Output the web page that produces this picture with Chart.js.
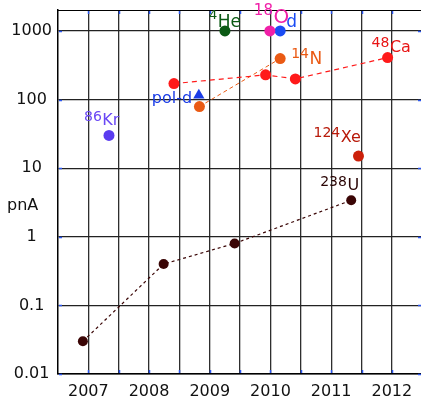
<!DOCTYPE html>
<html>
<head>
<meta charset="utf-8">
<script src="https://cdn.jsdelivr.net/npm/chart.js@4/dist/chart.umd.min.js"></script>
<style>
html,body{margin:0;padding:0;background:#fff;}
#wrap{width:421px;height:403px;position:relative;}
</style>
</head>
<body>
<div id="wrap"><canvas id="c" width="421" height="403"></canvas></div>
<script>
// ---- data ----
const yTickValues = [0.01, 0.1, 1, 10, 100, 1000];
const yTickLabels = ['0.01', '0.1', '1', '10', '100', '1000'];
const xTickYears = [2007, 2008, 2009, 2010, 2011, 2012];
const yAxisLabel = 'pnA';

const uYears = [2006.91, 2008.24, 2009.41, 2011.33];
const uValues = [0.03, 0.4, 0.8, 3.4];
const caYears = [2008.41, 2009.92, 2010.41, 2011.93];
const caValues = [171, 229, 200, 409];
const nYears = [2008.83, 2010.16];
const nValues = [79, 396];
const poldYears = [2008.82];
const poldValues = [116];
const krYears = [2007.34];
const krValues = [30];
const heYears = [2009.25];
const heValues = [1000];
const oYears = [2009.99];
const oValues = [1000];
const dYears = [2010.16];
const dValues = [1000];
const xeYears = [2011.45];
const xeValues = [15];

const seriesNames = ['238U', '48Ca', '14N', 'pol-d', '86Kr', '4He', '18O', 'd', '124Xe'];
const labelSup = ['238', '48', '14', '', '86', '4', '18', '', '124'];
const labelMain = ['U', 'Ca', 'N', 'pol-d', 'Kr', 'He', 'O', 'd', 'Xe'];

// ---- styles ----
const colors = {
  u: '#3a0505', ca: '#ff1a1a', n: '#ea5a14', pold: '#1a3ce6', kr: '#5a3cf0',
  he: '#0b5a14', o: '#f020a8', d: '#1a4cf5', xe: '#cc200a'
};
const labelColors = ['#2a0505', '#e81414', '#ea5a14', '#1a3ce6', '#6a48f5', '#0b5a14', '#f020a8', '#1a4cf5', '#b81a0a'];
// label placement: [datasetIndex, pointIndex, dx, dy (main baseline), supRaise, mainSize, supSize]
const labelPlace = [
  [0, 3, -31, -10, 4, 16, 14],
  [1, 3, -16, -6, 5, 16, 14],
  [2, 1, 11, 5, 6, 17, 14],
  [3, 0, -47, 8, 0, 16, 14],
  [4, 0, -25, -10, 4, 16, 14],
  [5, 0, -16, -4, 8, 17, 13],
  [6, 0, -16, -8, 8, 20, 15],
  [7, 0, 6, -4, 0, 17, 13],
  [8, 0, -45, -14, 5, 16, 14]
];

function pts(xs, ys) { return xs.map((x, i) => ({x: x, y: ys[i]})); }

const FONT = '"DejaVu Sans", Verdana, sans-serif';

const datasets = [
  {data: pts(uYears, uValues), borderColor: colors.u, backgroundColor: colors.u, borderDash: [3, 3], borderWidth: 1.2, showLine: true, pointRadius: 5, pointHoverRadius: 5},
  {data: pts(caYears, caValues), borderColor: colors.ca, backgroundColor: colors.ca, borderDash: [5, 4], borderWidth: 1.2, showLine: true, pointRadius: 5.5},
  {data: pts(nYears, nValues), borderColor: colors.n, backgroundColor: colors.n, borderDash: [4, 3], borderWidth: 1, showLine: true, pointRadius: 5.5},
  {data: pts(poldYears, poldValues), borderColor: colors.pold, backgroundColor: colors.pold, pointStyle: 'triangle', pointRadius: 6.5, showLine: false},
  {data: pts(krYears, krValues), borderColor: colors.kr, backgroundColor: colors.kr, pointRadius: 5.5, showLine: false},
  {data: pts(heYears, heValues), borderColor: colors.he, backgroundColor: colors.he, pointRadius: 5.5, showLine: false},
  {data: pts(oYears, oValues), borderColor: colors.o, backgroundColor: colors.o, pointRadius: 5.5, showLine: false},
  {data: pts(dYears, dValues), borderColor: colors.d, backgroundColor: colors.d, pointRadius: 5.5, showLine: false},
  {data: pts(xeYears, xeValues), borderColor: colors.xe, backgroundColor: colors.xe, pointRadius: 5.5, showLine: false}
];
datasets.forEach((d, i) => { d.label = seriesNames[i]; d.pointBorderWidth = 0; });

const frame = {
  id: 'frame',
  beforeDatasetsDraw(chart) {
    const {ctx, chartArea: a, scales} = chart;
    ctx.save();
    ctx.strokeStyle = '#000';
    ctx.lineWidth = 1;
    ctx.beginPath();
    ctx.moveTo(a.left, a.top + 0.5); ctx.lineTo(a.right, a.top + 0.5);
    ctx.stroke();
    // small blue mirror ticks
    ctx.strokeStyle = '#2a55ee';
    ctx.lineWidth = 1.5;
    ctx.beginPath();
    scales.x.ticks.forEach(t => {
      const x = Math.round(scales.x.getPixelForValue(t.value)) + 0.5;
      ctx.moveTo(x, a.top + 1); ctx.lineTo(x, a.top + 4);
      ctx.moveTo(x, a.bottom - 1); ctx.lineTo(x, a.bottom - 4);
    });
    scales.y.ticks.forEach(t => {
      const y = Math.round(scales.y.getPixelForValue(t.value)) + 0.5;
      ctx.moveTo(a.left + 1, y); ctx.lineTo(a.left + 4, y);
      ctx.moveTo(a.right, y); ctx.lineTo(a.right - 3, y);
    });
    ctx.stroke();
    ctx.restore();
  },
  afterDatasetsDraw(chart) {
    const ctx = chart.ctx;
    ctx.save();
    ctx.textBaseline = 'alphabetic';
    ctx.textAlign = 'left';
    labelPlace.forEach((p, i) => {
      const el = chart.getDatasetMeta(p[0]).data[p[1]];
      let x = el.x + p[2];
      const y = el.y + p[3];
      ctx.fillStyle = labelColors[i];
      if (labelSup[i]) {
        ctx.font = p[6] + 'px ' + FONT;
        ctx.fillText(labelSup[i], x, y - p[4]);
        x += ctx.measureText(labelSup[i]).width + 0.5;
      }
      ctx.font = p[5] + 'px ' + FONT;
      ctx.fillText(labelMain[i], x, y);
    });
    ctx.fillStyle = '#111';
    ctx.font = '16px ' + FONT;
    ctx.fillText(yAxisLabel, 7, 210);
    ctx.restore();
  }
};

new Chart(document.getElementById('c'), {
  type: 'scatter',
  data: {datasets: datasets},
  plugins: [frame],
  options: {
    responsive: false,
    animation: false,
    events: [],
    layout: {autoPadding: false, padding: {top: 10, right: 0, left: 0, bottom: 0}},
    plugins: {legend: {display: false}, tooltip: {enabled: false}},
    scales: {
      x: {
        type: 'linear',
        min: 2006.5,
        max: 2012.48,
        afterBuildTicks(scale) {
          const t = [];
          xTickYears.forEach(y => { t.push({value: y - 0.5}); t.push({value: y}); });
          scale.ticks = t.filter(k => k.value > 2006.5);
        },
        afterFit(scale) { scale.height = 29; scale.paddingLeft = 0; scale.paddingRight = 0; },
        grid: {color: '#2e2e2e', lineWidth: 1.3, drawTicks: false},
        border: {color: '#000', width: 1.5},
        ticks: {
          padding: 8,
          maxRotation: 0,
          autoSkip: false,
          color: '#111',
          font: {family: FONT, size: 16},
          callback(v) { return xTickYears.includes(v) ? String(v) : ''; }
        }
      },
      y: {
        type: 'logarithmic',
        min: 0.01,
        max: 2020,
        afterBuildTicks(scale) { scale.ticks = yTickValues.map(v => ({value: v})); },
        afterFit(scale) { scale.width = 58; scale.paddingTop = 0; scale.paddingBottom = 0; },
        grid: {color: '#222', lineWidth: 1.3, drawTicks: false},
        border: {color: '#000', width: 1.5},
        ticks: {
          padding: 6,
          crossAlign: 'center',
          autoSkip: false,
          color: '#111',
          font: {family: FONT, size: 16},
          callback(v) { const i = yTickValues.indexOf(v); return i >= 0 ? yTickLabels[i] : ''; }
        }
      }
    }
  }
});
</script>
</body>
</html>
